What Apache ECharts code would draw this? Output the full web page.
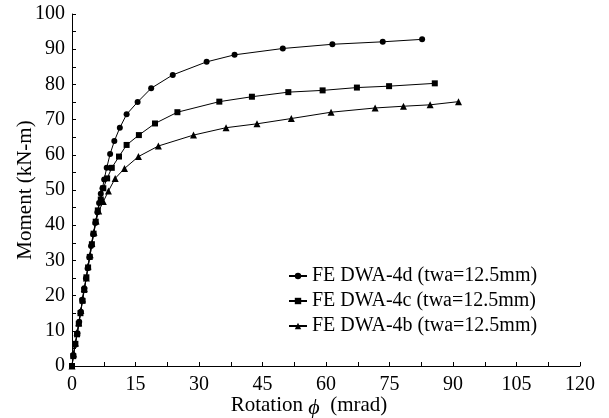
<!DOCTYPE html>
<html>
<head>
<meta charset="utf-8">
<script src="https://cdn.jsdelivr.net/npm/echarts@6/dist/echarts.min.js"></script>
<style>
  html, body { margin: 0; padding: 0; background: #fff; }
  #chart { width: 609px; height: 418px; }
</style>
</head>
<body>
<div id="chart"></div>
<script>
// values (rotation in mrad, moment in kN-m)
const seriesNames = ['FE DWA-4d (twa=12.5mm)', 'FE DWA-4c (twa=12.5mm)', 'FE DWA-4b (twa=12.5mm)'];

const rot4d = [0, 0.3, 0.7, 1.3, 1.7, 2.1, 2.4, 2.9, 3.3, 3.7, 4.1, 4.5, 5.0, 5.5, 6.0, 6.4, 6.8, 7.2, 7.6, 8.2, 9.0, 10.0, 11.3, 12.9, 15.5, 18.7, 23.8, 31.8, 38.4, 49.8, 61.5, 73.4, 82.7];
const mom4d = [0, 3.1, 6.0, 9.3, 12.6, 15.4, 18.8, 22.1, 24.9, 27.8, 30.9, 34.1, 37.4, 40.6, 43.7, 46.3, 48.9, 50.5, 53.0, 56.3, 60.2, 63.9, 67.7, 71.5, 75.0, 78.9, 82.7, 86.4, 88.4, 90.2, 91.4, 92.1, 92.8];

const rot4c = [0, 0.3, 0.8, 1.2, 1.6, 2.0, 2.5, 2.9, 3.4, 3.8, 4.2, 4.7, 5.1, 5.6, 6.1, 6.8, 7.4, 8.3, 9.4, 11.1, 12.9, 15.8, 19.6, 24.9, 34.8, 42.5, 51.1, 59.2, 67.3, 74.9, 85.7];
const mom4c = [0, 2.8, 6.3, 9.0, 12.0, 15.0, 18.5, 21.6, 25.2, 28.0, 31.0, 34.6, 37.6, 41.0, 44.2, 47.3, 50.5, 53.3, 56.3, 59.5, 62.8, 65.6, 68.9, 72.1, 75.1, 76.5, 77.8, 78.3, 79.1, 79.5, 80.3];

const rot4b = [0, 0.4, 0.8, 1.2, 1.6, 2.1, 2.5, 2.9, 3.4, 3.8, 4.3, 4.7, 5.2, 5.7, 6.3, 7.4, 8.6, 10.2, 12.4, 15.7, 20.4, 28.7, 36.4, 43.7, 51.8, 61.2, 71.6, 78.3, 84.6, 91.3];
const mom4b = [0, 3.4, 6.5, 9.6, 12.3, 15.8, 19.0, 22.0, 25.0, 28.4, 31.6, 34.8, 38.0, 41.2, 44.0, 46.7, 49.7, 53.3, 56.1, 59.5, 62.5, 65.6, 67.7, 68.8, 70.3, 72.1, 73.3, 73.8, 74.2, 75.1];

const pairs = (xs, ys) => xs.map((x, i) => [x, ys[i]]);

const font = "'Liberation Serif', 'Times New Roman', serif";
const chart = echarts.init(document.getElementById('chart'));

const lineSeries = (name, data, symbol, size) => ({
  name: name,
  type: 'line',
  data: data,
  symbol: symbol,
  symbolSize: size,
  showSymbol: true,
  lineStyle: { color: '#000', width: 1 },
  itemStyle: { color: '#000' },
  emphasis: { disabled: true }
});

chart.setOption({
  animation: false,
  grid: { left: 72, right: 29, top: 14, bottom: 52, containLabel: false, outerBoundsMode: 'none' },
  legend: {
    orient: 'vertical',
    left: 283,
    top: 261,
    itemWidth: 18,
    itemHeight: 8,
    itemGap: 5,
    textStyle: { fontFamily: font, fontSize: 20, color: '#000' },
    data: seriesNames
  },
  xAxis: {
    type: 'value',
    min: 0,
    max: 120,
    interval: 7.5,
    name: '{t|Rotation }{phi|\u03d5}{t|  (mrad)}',
    nameLocation: 'middle',
    nameMoveOverlap: false,
    nameGap: 25,
    nameTextStyle: {
      padding: [0, 34, 0, 0],
      rich: {
        t: { fontFamily: font, fontSize: 21, color: '#000' },
        phi: { fontFamily: font, fontSize: 22, fontStyle: 'italic', color: '#000', padding: [6, 0, 0, 0] }
      }
    },
    axisLine: { lineStyle: { color: '#000', width: 1 } },
    axisTick: { inside: true, length: 4, lineStyle: { color: '#000' } },
    axisLabel: {
      fontFamily: font, fontSize: 20, color: '#000', margin: 9,
      formatter: v => (v % 15 === 0 ? String(v) : '')
    },
    splitLine: { show: false }
  },
  yAxis: {
    type: 'value',
    min: 0,
    max: 100,
    interval: 5,
    name: 'Moment (kN-m)',
    nameLocation: 'middle',
    nameMoveOverlap: false,
    nameGap: 36,
    nameTextStyle: { fontFamily: font, fontSize: 21, color: '#000' },
    axisLine: { show: true, lineStyle: { color: '#000', width: 1 } },
    axisTick: { show: true, inside: true, length: 4, lineStyle: { color: '#000' } },
    axisLabel: {
      fontFamily: font, fontSize: 20, color: '#000', margin: 7,
      padding: [8, 0, 0, 0],
      formatter: v => (v % 10 === 0 ? String(v) : '')
    },
    splitLine: { show: false }
  },
  series: [
    lineSeries(seriesNames[0], pairs(rot4d, mom4d), 'circle', 6),
    lineSeries(seriesNames[1], pairs(rot4c, mom4c), 'rect', 6),
    lineSeries(seriesNames[2], pairs(rot4b, mom4b), 'triangle', 7)
  ]
});
</script>
</body>
</html>
